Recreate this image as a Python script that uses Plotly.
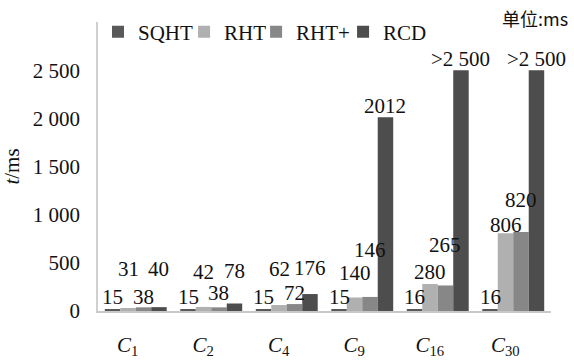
import plotly.graph_objects as go

categories = ["C1", "C2", "C4", "C9", "C16", "C30"]
category_labels = ["<i>C</i><sub>1</sub>", "<i>C</i><sub>2</sub>", "<i>C</i><sub>4</sub>",
                   "<i>C</i><sub>9</sub>", "<i>C</i><sub>16</sub>", "<i>C</i><sub>30</sub>"]
series_names = ["SQHT", "RHT", "RHT+", "RCD"]
sqht = [15, 15, 15, 15, 16, 16]
rht = [31, 42, 62, 140, 280, 806]
rht_plus = [38, 38, 72, 146, 265, 820]
rcd = [40, 78, 176, 2012, 2500, 2500]
rcd_labels = ["40", "78", "176", "2012", ">2 500", ">2 500"]
y_tickvals = [0, 500, 1000, 1500, 2000, 2500]
y_ticktext = ["0", "500", "1 000", "1 500", "2 000", "2 500"]

# styles / label placement (pixels above bar top to label centre)
colors = ["#595959", "#b0b0b0", "#878787", "#4d4d4d"]
label_shift = [
    [13, 13, 13, 13, 12, 12],
    [39, 35, 36, 25, 12, 8],
    [10, 14, 11, 47, 40, 32],
    [38, 32, 26, 11, 11, 11],
]
legend_x = [0.0, 0.19, 0.349, 0.541]   # paper positions of the legend entries
BARGAP = 0.18
FONT = "Times New Roman, Liberation Serif, DejaVu Serif, serif"
CJK_FONT = "Noto Sans CJK SC"
FS = 21

series_values = [sqht, rht, rht_plus, rcd]
series_labels = [[str(v) for v in sqht], [str(v) for v in rht],
                 [str(v) for v in rht_plus], rcd_labels]
legend_ids = ["legend", "legend2", "legend3", "legend4"]

fig = go.Figure()
for name, vals, col, lid in zip(series_names, series_values, colors, legend_ids):
    fig.add_trace(go.Bar(name=name, x=categories, y=vals, legend=lid,
                         marker=dict(color=col, line=dict(width=0))))

group_w = 1 - BARGAP
bar_w = group_w / len(series_names)
annotations = []
for si, (vals, labs) in enumerate(zip(series_values, series_labels)):
    for ci, (v, t) in enumerate(zip(vals, labs)):
        xc = ci - group_w / 2 + (si + 0.5) * bar_w
        annotations.append(dict(x=xc, y=v, xref="x", yref="y", text=t,
                                showarrow=False, yanchor="middle",
                                yshift=label_shift[si][ci],
                                font=dict(family=FONT, size=FS, color="#111")))

annotations.append(dict(x=1.042, y=1.014, xref="paper", yref="paper",
                        text="单位:ms",
                        showarrow=False, xanchor="right", yanchor="middle",
                        font=dict(family=CJK_FONT, size=18, color="#111")))

legend_style = dict(orientation="h", y=0.965, xanchor="left", yanchor="middle",
                    bgcolor="rgba(0,0,0,0)", itemclick=False,
                    font=dict(family=FONT, size=FS, color="#111"))
legends = {lid: dict(legend_style, x=lx) for lid, lx in zip(legend_ids, legend_x)}

fig.update_layout(
    width=574, height=360,
    margin=dict(l=98, r=23, t=22, b=49),
    paper_bgcolor="white", plot_bgcolor="white",
    barmode="group", bargap=BARGAP, bargroupgap=0,
    font=dict(family=FONT, size=FS, color="#111"),
    showlegend=True,
    annotations=annotations,
    **legends,
)
fig.update_xaxes(type="category", tickvals=categories, ticktext=category_labels,
                 showline=True, linecolor="#c8c8c8", linewidth=1.5,
                 showgrid=False, ticks="", ticklabelstandoff=14,
                 ticklabelshift=-8, range=[-0.5, 5.5], automargin=False,
                 tickfont=dict(family=FONT, size=FS, color="#111"))
fig.update_yaxes(range=[0, 3000], tickvals=y_tickvals, ticktext=y_ticktext,
                 showline=True, linecolor="#d0d0d0", linewidth=1.5,
                 showgrid=False, zeroline=False, ticks="",
                 ticklabelstandoff=12, automargin=False,
                 title=dict(text="<i>t</i>/ms", standoff=7,
                            font=dict(family=FONT, size=FS, color="#111")),
                 tickfont=dict(family=FONT, size=FS, color="#111"))

fig.write_html("out.html", config={"displayModeBar": False},
               post_script="document.body.style.margin='0';document.body.style.padding='0';")
